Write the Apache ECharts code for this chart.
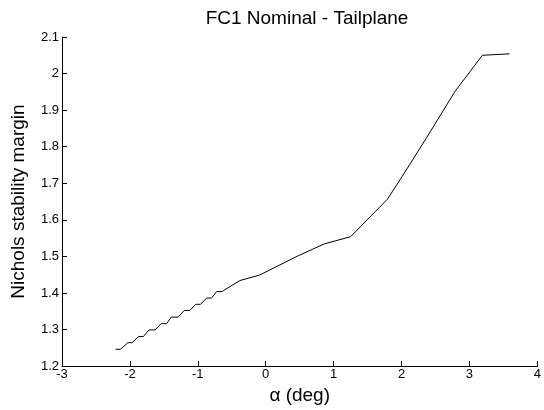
<!DOCTYPE html>
<html>
<head>
<meta charset="utf-8">
<script src="https://cdn.jsdelivr.net/npm/echarts@6/dist/echarts.min.js"></script>
<style>
html,body{margin:0;padding:0;background:#fff;}
#main{width:544px;height:410px;}
</style>
</head>
<body>
<div id="main"></div>
<script>
// alpha (deg) and Nichols margin
var alphaDeg = [-2.21, -2.14, -2.03, -1.97, -1.87, -1.80, -1.72, -1.63, -1.54, -1.46,
	-1.39, -1.29, -1.20, -1.12, -1.03, -0.96, -0.87, -0.80, -0.72, -0.64,
	-0.60, -0.38, -0.09, 0.47, 0.86, 1.25, 1.79, 2.01, 2.37, 2.79, 3.19, 3.59];
var margin = [1.246, 1.246, 1.264, 1.264, 1.281, 1.281, 1.299, 1.299, 1.316, 1.316,
	1.334, 1.334, 1.352, 1.352, 1.369, 1.369, 1.386, 1.386, 1.404, 1.404,
	1.409, 1.434, 1.449, 1.501, 1.534, 1.554, 1.656, 1.719, 1.825, 1.952, 2.050, 2.054];
var xTicks = [-3, 4, 1];      // min, max, step
var yTicks = [1.2, 2.1, 0.1];

var pts = [];
for(var i=0;i<alphaDeg.length;i++){
	pts.push([alphaDeg[i], margin[i]]);
}

var font = 'Liberation Sans, Arial, Helvetica, sans-serif';
var myChart = echarts.init(document.getElementById('main'), null, {renderer:'canvas'});
var option = {
	animation: false,
	backgroundColor: '#fff',
	title: {
		text: 'FC1 Nominal - Tailplane',
		left: 302,
		textAlign: 'center',
		top: 4,
		textStyle: {fontFamily: font, fontSize: 19, fontWeight: 'normal', color: '#000'}
	},
	grid: {left: 62, right: 3, top: 37, bottom: 36},
	xAxis: {
		type: 'value',
		min: xTicks[0], max: xTicks[1], interval: xTicks[2],
		name: 'α (deg)',
		nameLocation: 'middle',
		nameGap: 15,
		nameTextStyle: {fontFamily: font, fontSize: 19, color: '#000'},
		axisLine: {show: true, onZero: false, lineStyle: {color: '#000', width: 1}},
		axisTick: {show: true, inside: true, length: 5, lineStyle: {color: '#000'}},
		axisLabel: {fontFamily: font, fontSize: 13, color: '#000', margin: 2},
		splitLine: {show: false}
	},
	yAxis: {
		type: 'value',
		min: yTicks[0], max: yTicks[1], interval: yTicks[2],
		name: 'Nichols stability margin',
		nameLocation: 'middle',
		nameGap: 34,
		nameTextStyle: {fontFamily: font, fontSize: 19, color: '#000'},
		axisLine: {show: true, onZero: false, lineStyle: {color: '#000', width: 1}},
		axisTick: {show: true, inside: true, length: 5, lineStyle: {color: '#000'}},
		axisLabel: {
			fontFamily: font, fontSize: 13, color: '#000', margin: 3,
			formatter: function(v){ return String(+v.toFixed(1)); }
		},
		splitLine: {show: false}
	},
	series: [{
		type: 'line',
		data: pts,
		showSymbol: false,
		lineStyle: {color: '#000', width: 1}
	}]
};
myChart.setOption(option);
</script>
</body>
</html>
